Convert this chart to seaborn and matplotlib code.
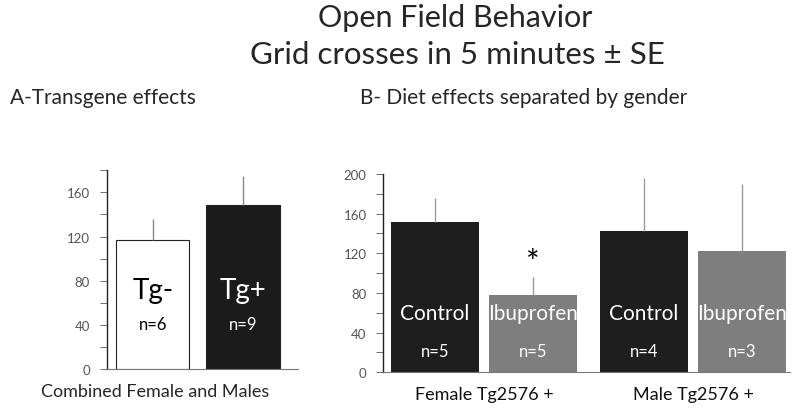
import numpy as np
import pandas as pd
import seaborn as sns
import matplotlib.pyplot as plt
from matplotlib.ticker import MultipleLocator

# panel A - transgene effects
geno_a = ["Tg-", "Tg+"]
mean_a = [117, 149]
se_a = [19, 26]
n_a = [6, 9]

# panel B - diet effects by gender
sex_b = ["Female Tg2576 +", "Female Tg2576 +", "Male Tg2576 +", "Male Tg2576 +"]
diet_b = ["Control", "Ibuprofen", "Control", "Ibuprofen"]
mean_b = [152, 78, 143, 122]
se_b = [24, 18, 53, 68]
n_b = [5, 5, 4, 3]

sns.set_style("white")
plt.rcParams["font.family"] = ["Lato", "DejaVu Sans"]

df_a = pd.DataFrame({"geno": geno_a, "mean": mean_a})
df_b = pd.DataFrame({"sex": sex_b, "diet": diet_b, "mean": mean_b})

fig = plt.figure(figsize=(7.92, 4.10), dpi=100)
axA = fig.add_axes([0.1347, 0.0976, 0.2416, 0.4846])
axB = fig.add_axes([0.484, 0.0895, 0.513, 0.4837])

sns.barplot(data=df_a, x="geno", y="mean", hue="geno", palette=["white", "#1b1b1b"],
            edgecolor="#222222", linewidth=0.8, width=0.81, legend=False, ax=axA)
sns.barplot(data=df_b, x="sex", y="mean", hue="diet", palette=["#1e1e1e", "#7e7e7e"],
            width=0.94, gap=0.1, linewidth=0, legend=False, ax=axB)


def bar_centers(ax):
    ps = sorted(ax.patches, key=lambda p: p.get_x())
    return [p.get_x() + p.get_width() / 2 for p in ps]


# error bars (upper only) and in-bar labels
ca = bar_centers(axA)
for cx, m, s, g, n, col in zip(ca, mean_a, se_a, geno_a, n_a, ["black", "white"]):
    axA.vlines(cx, m, m + s, color="#888888", lw=1)
    axA.text(cx, 72, g, ha="center", va="center", fontsize=20, color=col)
    axA.text(cx, 41, f"n={n}", ha="center", va="center", fontsize=12, color=col)

cb = bar_centers(axB)
for cx, m, s, d, n in zip(cb, mean_b, se_b, diet_b, n_b):
    axB.vlines(cx, m, m + s, color="#9a9a9a", lw=1)
    axB.text(cx, 60, d, ha="center", va="center", fontsize=15, color="white")
    axB.text(cx, 21, f"n={n}", ha="center", va="center", fontsize=12, color="white")
axB.text(cb[1], 110, "*", ha="center", va="center", fontsize=23, color="black")

for ax, top in [(axA, 180), (axB, 200)]:
    sns.despine(ax=ax)
    ax.set_ylim(0, top)
    ax.yaxis.set_major_locator(MultipleLocator(40))
    ax.yaxis.set_minor_locator(MultipleLocator(20))
    ax.tick_params(axis="y", which="both", direction="out", left=True, length=5,
                   width=0.6, colors="#555555", labelsize=9.5, pad=7)
    ax.tick_params(axis="x", length=0)
    ax.spines["left"].set_color("#222222")
    ax.spines["left"].set_linewidth(1)
    ax.spines["bottom"].set_color("#777777")
    ax.spines["bottom"].set_linewidth(0.8)
    ax.set_xlabel("")
    ax.set_ylabel("")

axA.set_xlim(-0.51, 1.61)
axA.set_xticklabels([])
axB.set_xlim(-0.483, 1.463)
axB.tick_params(axis="x", labelsize=13, pad=10, labelcolor="#111111")

fig.text(0.575, 0.956, "Open Field Behavior", ha="center", va="center", fontsize=22)
fig.text(0.578, 0.866, "Grid crosses in 5 minutes \u00b1 SE", ha="center", va="center", fontsize=22.5)
fig.text(0.0126, 0.761, "A-Transgene effects", ha="left", va="center", fontsize=15)
fig.text(0.4545, 0.761, "B- Diet effects separated by gender", ha="left", va="center", fontsize=15)
fig.text(0.196, 0.044, "Combined Female and Males", ha="center", va="center", fontsize=13)

fig.savefig("out.png", dpi=100)
